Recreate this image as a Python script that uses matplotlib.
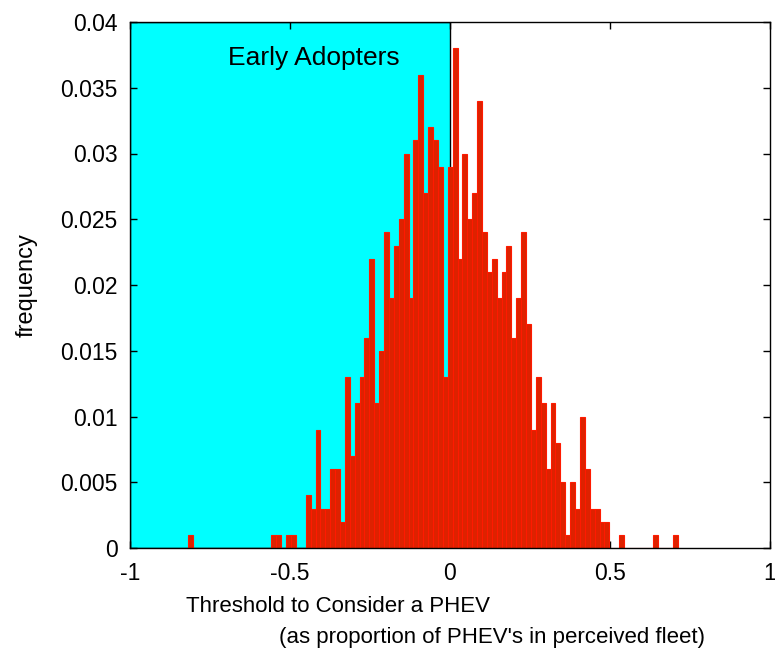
import numpy as np
import matplotlib
matplotlib.use("Agg")
import matplotlib.pyplot as plt
from matplotlib.patches import Rectangle

# ---- data ----
bin_min = -0.818
bin_max = 0.712
n_bins = 100
# counts per bin (out of 1000 samples)
counts = [1] + [0]*16 + [1, 1, 0, 1, 1, 0, 0,
          4, 3, 9, 3, 3, 6, 6, 2, 13, 7, 11, 13, 16, 22,
          11, 15, 24, 19, 23, 25, 30, 19, 31, 36, 27, 32, 31, 29, 13, 29,
          38,
          22, 30, 25, 27, 34, 24, 21, 22, 19, 21, 23, 16, 19, 24, 17,
          9, 13, 11, 6, 11, 8, 5, 1, 5, 3, 10, 6, 3, 3, 2, 2,
          0, 0, 1, 0, 0, 0, 0, 0, 0, 1, 0, 0, 0, 1]
total = 1000
region_x = [-1, 0]
region_label = "Early Adopters"
x_ticks = [-1, -0.5, 0, 0.5, 1]
y_ticks = [0, 0.005, 0.01, 0.015, 0.02, 0.025, 0.03, 0.035, 0.04]
y_tick_labels = ["0", "0.005", "0.01", "0.015", "0.02", "0.025", "0.03", "0.035", "0.04"]
xlabel_1 = "Threshold to Consider a PHEV"
xlabel_2 = "(as proportion of PHEV's in perceived fleet)"
ylabel = "frequency"

counts = counts[:n_bins] + [0] * max(0, n_bins - len(counts))
edges = np.linspace(bin_min, bin_max, n_bins + 1)
freq = np.array(counts) / total

plt.rcParams['font.family'] = ['Liberation Sans', 'DejaVu Sans']
fig = plt.figure(figsize=(7.75, 6.52), dpi=100)
ax = fig.add_axes([130/775, 1 - 548/652, 640/775, 526/652])

ax.add_patch(Rectangle((region_x[0], 0), region_x[1] - region_x[0], 0.04,
                       facecolor='#00FFFF', edgecolor='black', linewidth=1.0, zorder=1))
ax.text(-0.425, 0.0373, region_label, ha='center', va='center', fontsize=19, zorder=3)

ax.bar(edges[:-1], freq, width=np.diff(edges), align='edge',
       facecolor='#DD2200', edgecolor='#FF1A00', linewidth=0.8, zorder=2)

ax.set_xlim(-1, 1)
ax.set_ylim(0, 0.04)
ax.set_xticks(x_ticks)
ax.set_xticklabels([f"{t:g}" for t in x_ticks])
ax.set_yticks(y_ticks)
ax.set_yticklabels(y_tick_labels)
ax.tick_params(direction='in', length=5, labelsize=16.5, top=True, right=True, width=1)
ax.tick_params(axis='x', pad=10)
ax.tick_params(axis='y', pad=9)
for s in ax.spines.values():
    s.set_linewidth(1.0)
    s.set_zorder(5)

ax.text(0.325, -0.092, xlabel_1, transform=ax.transAxes, ha='center', va='top', fontsize=16)
ax.text(0.565, -0.150, xlabel_2, transform=ax.transAxes, ha='center', va='top', fontsize=16)
ax.set_ylabel(ylabel, fontsize=17, labelpad=16)

fig.savefig("out.png", dpi=100)
